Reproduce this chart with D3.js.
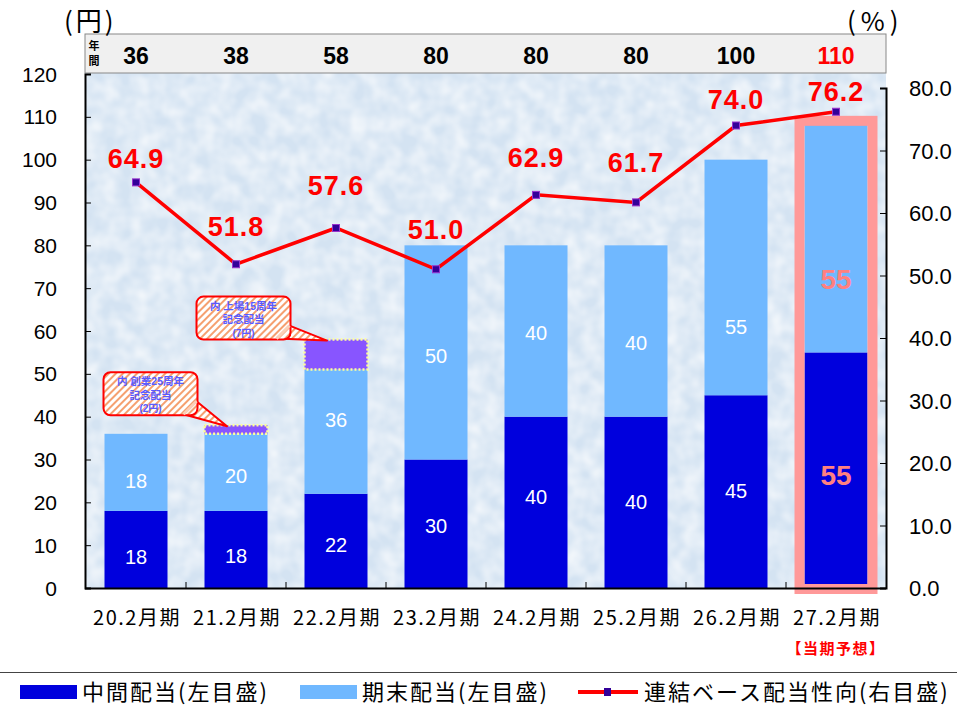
<!DOCTYPE html>
<html><head><meta charset="utf-8">
<script src="https://cdn.jsdelivr.net/npm/d3@7"></script>
<style>body{margin:0;background:#fff}svg{display:block}</style>
</head><body>
<script>
const categories = ["20.2月期","21.2月期","22.2月期","23.2月期","24.2月期","25.2月期","26.2月期","27.2月期"];
const interim = [18,18,22,30,40,40,45,55];
const yearEnd = [18,20,36,50,40,40,55,55];
const commemorative = [0,2,7,0,0,0,0,0];
const annual = [36,38,58,80,80,80,100,110];
const payout = [64.9,51.8,57.6,51.0,62.9,61.7,74.0,76.2];
const leftTicks = [0,10,20,30,40,50,60,70,80,90,100,110,120];
const rightTicks = [0,10,20,30,40,50,60,70,80];
const callouts = [{idx:1, lines:["内 創業25周年","記念配当","(2円)"]},{idx:2, lines:["内 上場15周年","記念配当","(7円)"]}];

const W=957,H=712;
const svg=d3.select("body").append("svg").attr("width",W).attr("height",H);
const FN="'Liberation Sans','Noto Sans CJK JP',Arial,sans-serif";
const JP="'Noto Sans CJK JP','Liberation Sans',sans-serif";

const x=d3.scaleBand().domain(categories).range([86,886]).paddingInner(0.37).paddingOuter(0.185);
const yL=d3.scaleLinear().domain([0,120]).range([588,74]);
const yR=d3.scaleLinear().domain([0,80]).range([588,88]);
const bw=x.bandwidth();

// defs
const defs=svg.append("defs");
const hatch=defs.append("pattern").attr("id","hatch").attr("patternUnits","userSpaceOnUse").attr("width",5).attr("height",5).attr("patternTransform","rotate(45)");
hatch.append("rect").attr("width",5).attr("height",5).attr("fill","#fff");
hatch.append("rect").attr("width",2).attr("height",5).attr("fill","#f5a070");
const f=defs.append("filter").attr("id","tex").attr("x",0).attr("y",0).attr("width","100%").attr("height","100%");
f.append("feTurbulence").attr("type","fractalNoise").attr("baseFrequency","0.06").attr("numOctaves",2).attr("seed",3);
f.append("feColorMatrix").attr("type","matrix").attr("values","0 0 0 0 1  0 0 0 0 1  0 0 0 0 1  1.1 0 0 0 -0.3");
f.append("feComposite").attr("in2","SourceGraphic").attr("operator","in");

// background
svg.append("rect").attr("x",85).attr("y",73).attr("width",801).attr("height",515).attr("fill","#d4e3f2");
svg.append("rect").attr("x",85).attr("y",73).attr("width",801).attr("height",515).attr("fill","#fff").attr("filter","url(#tex)");

// top band
svg.append("rect").attr("x",85).attr("y",34).attr("width",801).attr("height",39).attr("fill","#f0f0f0").attr("stroke","#888").attr("stroke-width",1);
svg.append("text").attr("x",94).attr("y",50).attr("text-anchor","middle").attr("font-family",JP).attr("font-weight","bold").attr("font-size",11).text("年");
svg.append("text").attr("x",94).attr("y",65).attr("text-anchor","middle").attr("font-family",JP).attr("font-weight","bold").attr("font-size",11).text("間");
svg.selectAll(".ann").data(annual).join("text")
 .attr("x",(d,i)=>x(categories[i])+bw/2).attr("y",64).attr("text-anchor","middle")
 .attr("font-family",FN).attr("font-weight","bold").attr("font-size",23)
 .attr("fill",(d,i)=>i===7?"#ff0000":"#000").text(d=>d);

// units
svg.append("text").attr("x",64).attr("y",31).attr("font-family",JP).attr("font-size",26).attr("letter-spacing",3).text("(円)");
svg.append("text").attr("x",847).attr("y",31).attr("font-family",JP).attr("font-size",26).attr("letter-spacing",5).text("(%)");

// bars
svg.selectAll(".bi").data(interim).join("rect")
 .attr("x",(d,i)=>x(categories[i])).attr("width",bw).attr("y",d=>yL(d)).attr("height",d=>588-yL(d)).attr("fill","#0000dd");
svg.selectAll(".be").data(yearEnd).join("rect")
 .attr("x",(d,i)=>x(categories[i])).attr("width",bw)
 .attr("y",(d,i)=>yL(interim[i]+d-commemorative[i])).attr("height",(d,i)=>yL(interim[i])-yL(interim[i]+d-commemorative[i])).attr("fill","#70b8ff");
categories.forEach((c,i)=>{
 if(!commemorative[i])return;
 const y0=yL(interim[i]+yearEnd[i]-commemorative[i]), y1=yL(interim[i]+yearEnd[i]);
 svg.append("rect").attr("x",x(c)).attr("width",bw).attr("y",y1).attr("height",y0-y1).attr("fill","#8855ff")
  .attr("stroke","#ffff99").attr("stroke-width",2.5).attr("stroke-dasharray","2,2");
});

// highlight box (drawn over bar edges)
const b7=x(categories[7]);
const hTop=yL(annual[7])+4;
svg.append("rect").attr("x",b7-5).attr("y",hTop).attr("width",bw+10).attr("height",589-hTop)
 .attr("fill","none").attr("stroke","#ff9999").attr("stroke-width",10);

// bar labels (label offsets in px relative to segment centre)
const interimOff=[7,6,4,2,-6,-1,-1,5];
const yearEndOff=[8,8,3,3,2,12,49,44];
categories.forEach((c,i)=>{
 const cx=x(c)+bw/2, last=i===7;
 const col=last?"#ff8080":"#fff", fw=last?"bold":"normal", fs=last?28:20;
 const d=fs*0.36;
 svg.append("text").attr("x",cx).attr("y",(yL(0)+yL(interim[i]))/2+interimOff[i]+d).attr("text-anchor","middle")
  .attr("font-family",FN).attr("font-size",fs).attr("font-weight",fw).attr("fill",col).text(interim[i]);
 svg.append("text").attr("x",cx).attr("y",(yL(interim[i])+yL(interim[i]+yearEnd[i]))/2+yearEndOff[i]+d).attr("text-anchor","middle")
  .attr("font-family",FN).attr("font-size",fs).attr("font-weight",fw).attr("fill",col).text(yearEnd[i]);
});

// axes
const gl=svg.append("g").attr("transform","translate(85,0)").call(d3.axisRight(yL).tickValues(leftTicks).tickSize(6).tickFormat(""));
gl.select(".domain").attr("stroke","#000").attr("stroke-width",2);
svg.selectAll(".lt").data(leftTicks).join("text").attr("x",57).attr("y",d=>yL(d)+7.5).attr("text-anchor","end")
 .attr("font-family",FN).attr("font-size",21).text(d=>d);
const gr=svg.append("g").attr("transform","translate(886,0)").call(d3.axisLeft(yR).tickValues(rightTicks).tickSize(6).tickFormat(""));
gr.select(".domain").attr("stroke","#000").attr("stroke-width",2);
svg.selectAll(".rt").data(rightTicks).join("text").attr("x",909).attr("y",d=>yR(d)+8)
 .attr("font-family",FN).attr("font-size",22).text(d=>d.toFixed(1));
svg.append("line").attr("x1",85).attr("x2",886).attr("y1",588.5).attr("y2",588.5).attr("stroke","#000").attr("stroke-width",2);
categories.forEach((c,i)=>{ if(i>0){ const tx=x(c)-x.step()*0.185; svg.append("line").attr("x1",tx).attr("x2",tx).attr("y1",582).attr("y2",588).attr("stroke","#000");}});
svg.selectAll(".xl").data(categories).join("text").attr("x",d=>x(d)+bw/2+1).attr("y",625).attr("text-anchor","middle")
 .attr("font-family",JP).attr("font-size",20).attr("letter-spacing",1.5).text(d=>d);
svg.append("text").attr("x",x(categories[7])+bw/2).attr("y",654).attr("text-anchor","middle")
 .attr("font-family",JP).attr("font-size",15).attr("font-weight","bold").attr("letter-spacing",1.5).attr("fill","#ff0000").text("【当期予想】");

// line
const lx=(d,i)=>x(categories[i])+bw/2;
svg.append("path").datum(payout).attr("d",d3.line().x(lx).y(d=>yR(d))).attr("fill","none").attr("stroke","#ff0000").attr("stroke-width",3.5);
svg.selectAll(".mk").data(payout).join("rect").attr("x",(d,i)=>lx(d,i)-3.5).attr("y",d=>yR(d)-3.5).attr("width",7).attr("height",7)
 .attr("fill","#330099").attr("stroke","#9933cc").attr("stroke-width",1);
const payOff=[24,38,43,40,38,40,27,21];
svg.selectAll(".pl").data(payout).join("text").attr("x",lx).attr("y",(d,i)=>yR(d)-payOff[i]+10)
 .attr("text-anchor","middle").attr("font-family",FN).attr("font-weight","bold").attr("font-size",27).attr("letter-spacing",1)
 .attr("fill","#ff0000").text(d=>d.toFixed(1));

// callouts
const calloutBox=[{dx:-101,dy:-53},{dx:-108,dy:-43}];
callouts.forEach((co,k0)=>{
 const i=co.idx, c=categories[i];
 const tx=x(c)+bw/2-9, ty=yL(annual[i])+1;
 const bx=x(c)+calloutBox[k0].dx, by=yL(annual[i])+calloutBox[k0].dy;
 const bwid=94,bh=43;
 svg.append("path").attr("d",`M${bx+bwid-14},${by+bh-1} L${tx},${ty} L${bx+bwid-1},${by+bh-14}`)
  .attr("fill","url(#hatch)").attr("stroke","#ff0000").attr("stroke-width",2).attr("stroke-linejoin","round");
 svg.append("rect").attr("x",bx).attr("y",by).attr("width",bwid).attr("height",bh).attr("rx",7)
  .attr("fill","url(#hatch)").attr("stroke","#ff0000").attr("stroke-width",2);
 svg.append("path").attr("d",`M${bx+bwid-14},${by+bh-1} L${bx+bwid-1},${by+bh-14}`).attr("stroke","#fbd0b8").attr("stroke-width",3);
 co.lines.forEach((t,k)=>{
  svg.append("text").attr("x",bx+bwid/2).attr("y",by+13+k*13.5).attr("text-anchor","middle")
   .attr("font-family",FN).attr("font-weight","bold").attr("font-size",k===2?10:10.5).attr("fill","#5a5aff").text(t);
 });
});

// legend
svg.append("line").attr("x1",0).attr("x2",957).attr("y1",672.5).attr("y2",672.5).attr("stroke","#444").attr("stroke-width",1);
svg.append("rect").attr("x",20).attr("y",685).attr("width",57).attr("height",14).attr("fill","#0000dd");
svg.append("text").attr("x",82).attr("y",700).attr("font-family",JP).attr("font-size",22).attr("letter-spacing",2).text("中間配当(左目盛)");
svg.append("rect").attr("x",300).attr("y",685).attr("width",57).attr("height",14).attr("fill","#70b8ff");
svg.append("text").attr("x",362).attr("y",700).attr("font-family",JP).attr("font-size",22).attr("letter-spacing",2).text("期末配当(左目盛)");
svg.append("line").attr("x1",578).attr("x2",638).attr("y1",692).attr("y2",692).attr("stroke","#ff0000").attr("stroke-width",4);
svg.append("rect").attr("x",604).attr("y",688).attr("width",7).attr("height",8).attr("fill","#330099");
svg.append("text").attr("x",644).attr("y",700).attr("font-family",JP).attr("font-size",22).attr("letter-spacing",2).text("連結ベース配当性向(右目盛)");
</script>
</body></html>
